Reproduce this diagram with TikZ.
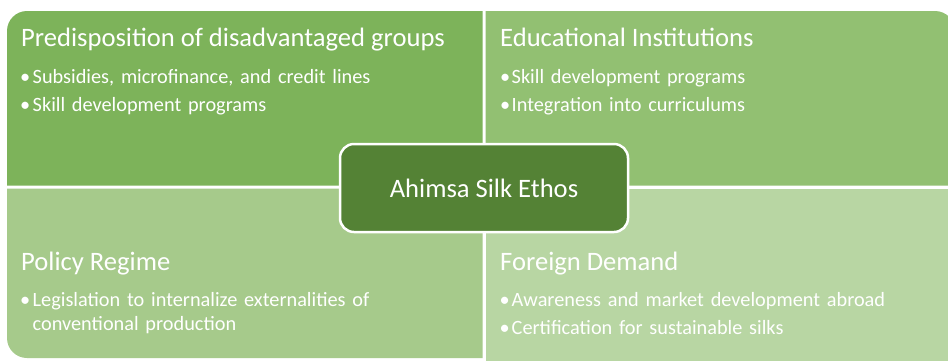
\documentclass[tikz,border=0pt]{standalone}
\usepackage{fontspec}
\setmainfont{Carlito}
\usetikzlibrary{positioning}

\definecolor{ahimsaA}{HTML}{7DB35A}
\definecolor{ahimsaB}{HTML}{92C072}
\definecolor{ahimsaC}{HTML}{A6CA8B}
\definecolor{ahimsaD}{HTML}{B8D6A3}
\definecolor{ahimsaHub}{HTML}{548235}

\hyphenpenalty=10000
% bullet with hanging indent, #1 places the dot in its box
\newcommand{\bul}[2][r]{\noindent\hangindent=11.5pt\hangafter=1\makebox[11.5pt][#1]{\textbullet\hspace{2.5pt}}#2\par}
\newcommand{\bulgap}{\vspace{4.7pt}}

\begin{document}
\begin{tikzpicture}[x=1pt,y=-1pt,
	quad/.style={inner sep=0pt,text=white},
	head/.style={quad,anchor=base west,font=\fontsize{26.6}{30}\selectfont},
	items/.style={quad,text width=#1,align=left,font=\fontsize{20.3}{23.3}\selectfont},
	items/.default=400pt,
	hub/.style={draw=white,line width=2.5pt,fill=ahimsaHub,text=white,rounded corners=14pt,
		minimum width=288pt,minimum height=88pt,font=\fontsize{26.6}{30}\selectfont}]
\path[use as bounding box] (0,0) rectangle (948,360);
\clip (0,0) rectangle (948,360);
\fill[white] (0,0) rectangle (948,360);

\fill[ahimsaA] (7,185.5) [rounded corners=20pt] -- (7,11) [sharp corners] -- (482.5,11) -- (482.5,185.5) -- cycle;
\fill[ahimsaB] (485.5,185.5) -- (485.5,11) [rounded corners=20pt] -- (955,11) [sharp corners] -- (955,185.5) -- cycle;
\fill[ahimsaC] (482.5,188.5) -- (7,188.5) [rounded corners=20pt] -- (7,358) [sharp corners] -- (482.5,358) -- cycle;
\fill[ahimsaD] (485.5,188.5) rectangle (960,370);

\node[head] (predisp) at (21,46.5) {Predisposition of disadvantaged groups};
\node[head] (edu) at (500,46.5) {Educational Institutions};
\node[head] (policy) at (21,270) {Policy Regime};
\node[head] (foreign) at (500,270) {Foreign Demand};

\node[items, below=36.7pt of predisp.base west, anchor=base west] (predisp list)
	{\bul{Subsidies, microfinance, and credit lines}\bulgap\bul{Skill development programs}};
\node[items=420pt, below=36.7pt of edu.base west, anchor=base west] (edu list)
	{\bul[l]{Skill development programs}\bulgap\bul[l]{Integration into curriculums}};
\node[items, below=36.7pt of policy.base west, anchor=base west] (policy list)
	{\bul{Legislation to internalize externalities of conventional production}};
\node[items=430pt, below=36.7pt of foreign.base west, anchor=base west] (foreign list)
	{\bul[c]{Awareness and market development abroad}\bulgap\bul[c]{Certification for sustainable silks}};

\node[hub] (ethos) at (484,188) {Ahimsa Silk Ethos};
\end{tikzpicture}
\end{document}
